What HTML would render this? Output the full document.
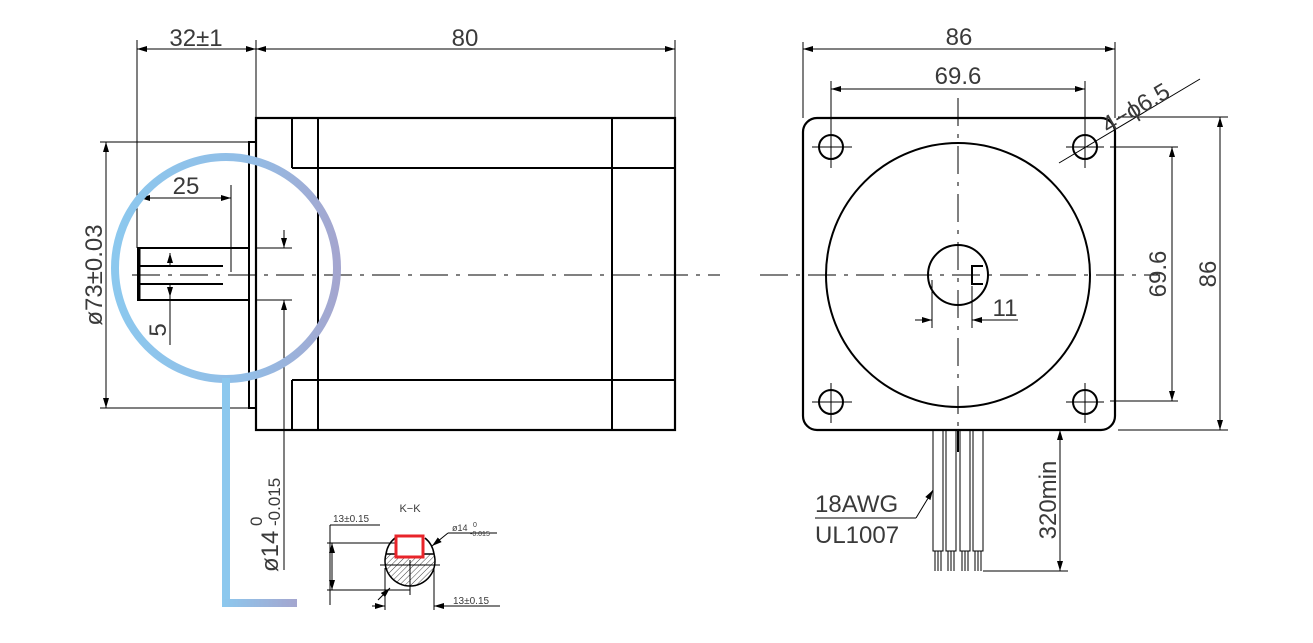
<!DOCTYPE html>
<html><head><meta charset="utf-8"><style>
html,body{margin:0;padding:0;background:#fff;}
svg{display:block;}
text{font-family:"Liberation Sans","DejaVu Sans",sans-serif;fill:#3a3a3a;}
</style></head><body>
<svg width="1313" height="643" viewBox="0 0 1313 643" xmlns="http://www.w3.org/2000/svg">
<defs>
<marker id="a" viewBox="0 0 10 6" refX="10" refY="3" markerWidth="10" markerHeight="6" orient="auto-start-reverse" markerUnits="userSpaceOnUse"><path d="M0,0 L10,3 L0,6z" fill="#000"/></marker>
<linearGradient id="g" x1="0" x2="1" y1="0" y2="0"><stop offset="0" stop-color="#8cc8ee"/><stop offset="0.6" stop-color="#92bde6"/><stop offset="1" stop-color="#a4a6cf"/></linearGradient>
<linearGradient id="g2" x1="0" x2="1" y1="0" y2="0"><stop offset="0" stop-color="#8cc8ee"/><stop offset="1" stop-color="#a4a6cf"/></linearGradient>
<pattern id="h" width="4" height="4" patternUnits="userSpaceOnUse" patternTransform="rotate(45)"><line x1="0" y1="0" x2="0" y2="4" stroke="#444" stroke-width="1"/></pattern>
</defs>

<g stroke="#000" fill="none">
<rect x="256" y="118" width="419" height="312" stroke-width="2.2"/>
<line x1="292" y1="118" x2="292" y2="168" stroke-width="2"/>
<line x1="292" y1="168" x2="675" y2="168" stroke-width="2"/>
<line x1="292" y1="380" x2="292" y2="430" stroke-width="2"/>
<line x1="292" y1="380" x2="675" y2="380" stroke-width="2"/>
<line x1="318" y1="118" x2="318" y2="430" stroke-width="2"/>
<line x1="612" y1="118" x2="612" y2="430" stroke-width="2"/>
<polyline points="256,142 249,142 249,408 256,408" stroke-width="2"/>
<polyline points="249,248 138,248 138,300 249,300" stroke-width="2"/>
<line x1="139" y1="248" x2="139" y2="300" stroke-width="3"/>
<line x1="140" y1="266" x2="223" y2="266" stroke-width="2"/>
<line x1="140" y1="284" x2="223" y2="284" stroke-width="2"/>
</g>
<line x1="132" y1="275" x2="720" y2="275" stroke="#000" stroke-width="1" stroke-dasharray="28,8,4,8"/>

<g stroke="#000" stroke-width="1" fill="none">
<line x1="137" y1="40" x2="137" y2="248"/>
<line x1="256" y1="40" x2="256" y2="118"/>
<line x1="675" y1="40" x2="675" y2="118"/>
<line x1="137" y1="49" x2="256" y2="49" marker-start="url(#a)" marker-end="url(#a)"/>
<line x1="256" y1="49" x2="675" y2="49" marker-start="url(#a)" marker-end="url(#a)"/>
<line x1="100" y1="142" x2="248" y2="142"/>
<line x1="100" y1="408" x2="248" y2="408"/>
<line x1="106" y1="142" x2="106" y2="408" marker-start="url(#a)" marker-end="url(#a)"/>
<line x1="140" y1="198" x2="231" y2="198" marker-start="url(#a)" marker-end="url(#a)"/>
<line x1="231" y1="185" x2="231" y2="272"/>
<line x1="170" y1="266" x2="170" y2="253" marker-end="url(#a)"/>
<line x1="170" y1="284" x2="170" y2="345" />
<line x1="170" y1="284" x2="170" y2="297" marker-end="url(#a)"/>
<line x1="255" y1="248" x2="292" y2="248"/>
<line x1="255" y1="300" x2="292" y2="300"/>
<line x1="284" y1="230" x2="284" y2="248" marker-end="url(#a)"/>
<line x1="284" y1="300" x2="284" y2="570" />
<line x1="284" y1="318" x2="284" y2="300" marker-end="url(#a)"/>
</g>
<text x="196" y="46" font-size="24" text-anchor="middle">32±1</text>
<text x="465" y="46" font-size="24" text-anchor="middle">80</text>
<text x="186" y="194" font-size="24" text-anchor="middle">25</text>
<text transform="translate(102,275) rotate(-90)" font-size="24" text-anchor="middle">ø73±0.03</text>
<text transform="translate(166,330) rotate(-90)" font-size="24" text-anchor="middle">5</text>
<text transform="translate(278,572) rotate(-90)" font-size="24">ø14</text>
<text transform="translate(262,526) rotate(-90)" font-size="17">0</text>
<text transform="translate(280,526) rotate(-90)" font-size="17">-0.015</text>

<circle cx="226" cy="268" r="111" fill="none" stroke="url(#g)" stroke-width="8"/>
<line x1="226" y1="378" x2="226" y2="605" stroke="#8cc8ee" stroke-width="8"/>
<rect x="222" y="599" width="75" height="8" fill="url(#g2)"/>

<text x="410" y="512" font-size="11" text-anchor="middle">K−K</text>
<g stroke="#000" stroke-width="1" fill="none">
<path d="M386,554 A25,25 0 1 0 434,554 L386,554 Z" fill="url(#h)" stroke-width="1.5"/>
<path d="M395,538 A25,25 0 0 0 386,554 M425,538 A25,25 0 0 1 434,554" stroke-width="1.5"/>
<line x1="330" y1="525" x2="380" y2="525"/>
<line x1="330" y1="525" x2="330" y2="605"/>
<line x1="327" y1="543" x2="395" y2="543"/>
<line x1="327" y1="590" x2="410" y2="590"/>
<line x1="332" y1="543" x2="332" y2="590" marker-start="url(#a)" marker-end="url(#a)"/>
<line x1="385" y1="568" x2="385" y2="610"/>
<line x1="434" y1="568" x2="434" y2="610"/>
<line x1="372" y1="606" x2="385" y2="606" marker-end="url(#a)"/>
<line x1="448" y1="606" x2="434" y2="606" marker-end="url(#a)"/>
<line x1="448" y1="606" x2="500" y2="606"/>
<line x1="380" y1="565" x2="440" y2="565"/>
<line x1="410" y1="560" x2="410" y2="595"/>
<line x1="497" y1="533" x2="448" y2="533"/>
<line x1="448" y1="533" x2="432" y2="546" marker-end="url(#a)"/>
<line x1="378" y1="600" x2="390" y2="588" marker-end="url(#a)"/>
</g>
<rect x="396" y="536" width="27" height="21" fill="#fff" stroke="#e8242a" stroke-width="3"/>
<text x="333" y="522" font-size="10">13±0.15</text>
<text x="452" y="531" font-size="9">ø14</text>
<text x="473" y="527" font-size="7">0</text>
<text x="470" y="536" font-size="7">-0.015</text>
<text x="453" y="604" font-size="10">13±0.15</text>

<g stroke="#000" fill="none">
<rect x="803" y="118" width="312" height="312" rx="14" stroke-width="2.2"/>
<circle cx="958" cy="275" r="132" stroke-width="2"/>
<circle cx="958" cy="275" r="30" stroke-width="2"/>
<polyline points="983,266 972,266 972,284 983,284" stroke-width="2"/>
<circle cx="831" cy="147" r="12" stroke-width="2"/>
<circle cx="1085" cy="147" r="12" stroke-width="2"/>
<circle cx="831" cy="402" r="12" stroke-width="2"/>
<circle cx="1085" cy="402" r="12" stroke-width="2"/>
</g>
<g stroke="#000" stroke-width="1" fill="none">
<line x1="760" y1="275" x2="1160" y2="275" stroke-dasharray="28,8,4,8"/>
<line x1="958" y1="98" x2="958" y2="430" stroke-dasharray="28,8,4,8"/>
<line x1="812" y1="147" x2="852" y2="147"/><line x1="831" y1="128" x2="831" y2="168"/>
<line x1="1066" y1="147" x2="1104" y2="147"/><line x1="1085" y1="128" x2="1085" y2="168"/>
<line x1="812" y1="402" x2="852" y2="402"/><line x1="831" y1="383" x2="831" y2="423"/>
<line x1="1066" y1="402" x2="1104" y2="402"/><line x1="1085" y1="383" x2="1085" y2="423"/>
<line x1="803" y1="42" x2="803" y2="118"/>
<line x1="1115" y1="42" x2="1115" y2="118"/>
<line x1="803" y1="49" x2="1115" y2="49" marker-start="url(#a)" marker-end="url(#a)"/>
<line x1="831" y1="81" x2="831" y2="135"/>
<line x1="1085" y1="81" x2="1085" y2="135"/>
<line x1="831" y1="89" x2="1085" y2="89" marker-start="url(#a)" marker-end="url(#a)"/>
<line x1="1118" y1="117" x2="1228" y2="117"/>
<line x1="1118" y1="430" x2="1228" y2="430"/>
<line x1="1220" y1="117" x2="1220" y2="430" marker-start="url(#a)" marker-end="url(#a)"/>
<line x1="1110" y1="147" x2="1178" y2="147"/>
<line x1="1110" y1="401" x2="1178" y2="401"/>
<line x1="1172" y1="147" x2="1172" y2="401" marker-start="url(#a)" marker-end="url(#a)"/>
<line x1="1059" y1="163" x2="1200" y2="79"/>
<line x1="932" y1="280" x2="932" y2="328"/>
<line x1="972" y1="286" x2="972" y2="328"/>
<line x1="915" y1="320" x2="932" y2="320" marker-end="url(#a)"/>
<line x1="990" y1="320" x2="972" y2="320" marker-end="url(#a)"/>
<line x1="972" y1="320" x2="1018" y2="320"/>
</g>
<text x="959" y="45" font-size="24" text-anchor="middle">86</text>
<text x="958" y="84" font-size="24" text-anchor="middle">69.6</text>
<text x="1005" y="316" font-size="24" text-anchor="middle">11</text>
<text transform="translate(1166,274) rotate(-90)" font-size="24" text-anchor="middle">69.6</text>
<text transform="translate(1216,274) rotate(-90)" font-size="24" text-anchor="middle">86</text>
<text transform="translate(1108,134) rotate(-30.8)" font-size="24">4−ϕ6.5</text>

<g stroke="#000" stroke-width="1" fill="none">
<rect x="933" y="430" width="10" height="121"/>
<rect x="946" y="430" width="10" height="121"/>
<rect x="960" y="430" width="10" height="121"/>
<rect x="973" y="430" width="10" height="121"/>
<line x1="958" y1="430" x2="958" y2="452" stroke-width="2"/>
<path d="M935,551v20M938,551v20M941,551v20M948,551v20M951,551v20M954,551v20M962,551v20M965,551v20M968,551v20M975,551v20M978,551v20M981,551v20"/>
<line x1="983" y1="571" x2="1068" y2="571"/>
<line x1="1060" y1="430" x2="1060" y2="571" marker-start="url(#a)" marker-end="url(#a)"/>
<line x1="815" y1="518" x2="916" y2="518"/>
<line x1="916" y1="518" x2="933" y2="490" marker-end="url(#a)"/>
</g>
<text x="815" y="512" font-size="24">18AWG</text>
<text x="815" y="543" font-size="24">UL1007</text>
<text transform="translate(1056,500) rotate(-90)" font-size="24" text-anchor="middle">320min</text>
</svg>
</body></html>
